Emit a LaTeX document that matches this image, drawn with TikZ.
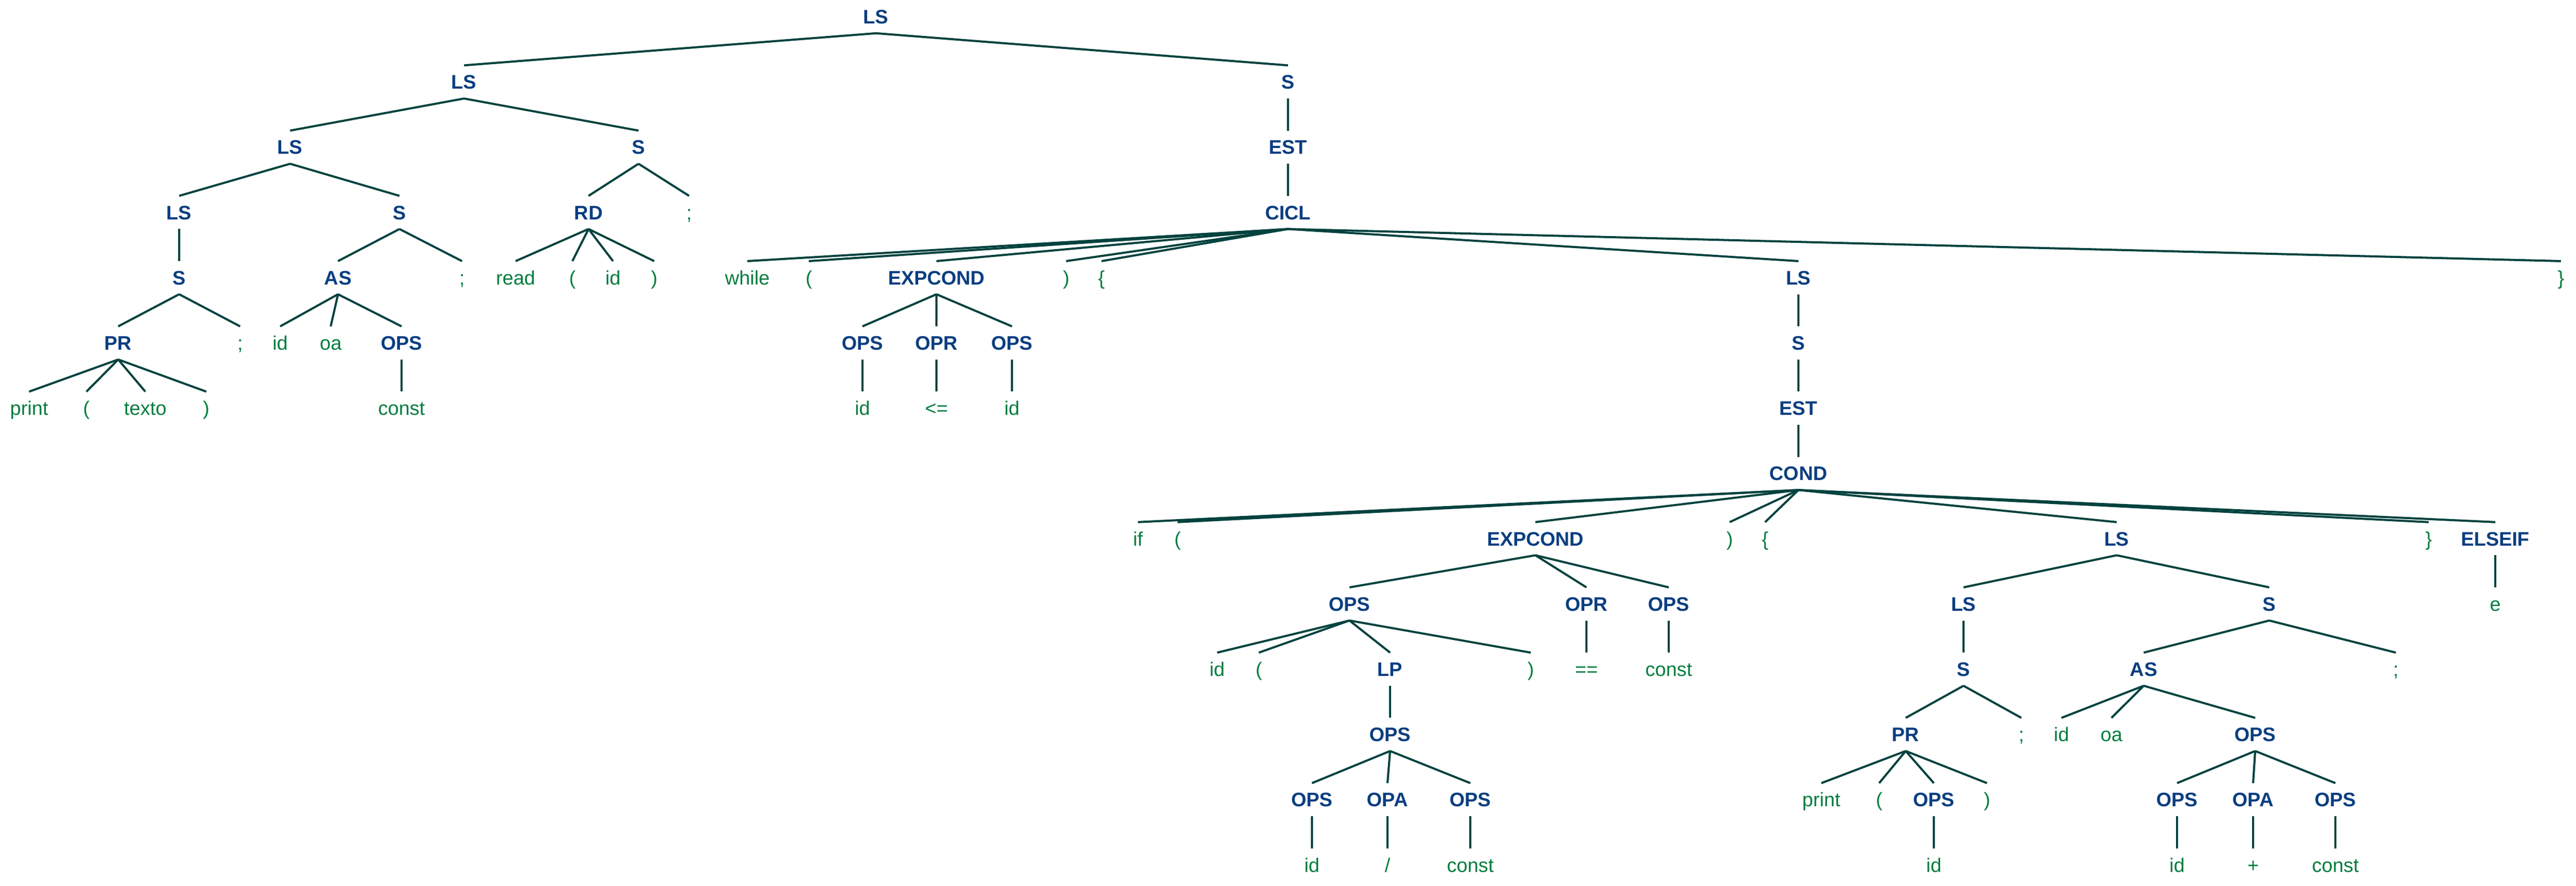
\documentclass[tikz,border=0pt]{standalone}
\usepackage{fontspec}
\setmainfont{Liberation Sans}
\usepackage{tikz}
\usetikzlibrary{positioning}
\definecolor{symcol}{RGB}{10,62,128}
\definecolor{tokcol}{RGB}{0,125,62}
\definecolor{linecol}{RGB}{0,66,62}
\tikzstyle{sym} = [text centered,text=symcol,font=\fontsize{10.7}{13}\selectfont\bfseries,text height=7.7pt,text depth=0pt,inner xsep=0pt,inner ysep=5pt]
\tikzstyle{tok} = [text centered,text=tokcol,font=\fontsize{10.7}{13}\selectfont,text height=7.7pt,text depth=0pt,inner xsep=0pt,inner ysep=5pt]
\tikzstyle{link} = [draw=linecol,line width=1.15pt]
\begin{document}
\begin{tikzpicture}[node distance=1.252cm]
				\useasboundingbox (0,0) rectangle (49.46,-17);
				\node (ls0) [sym] at (16.82,-0.32) {LS};
				\node (ls1) [sym, below of=ls0, xshift=-7.91cm] {LS};
				\node (s1) [sym, below of=ls0, xshift=7.91cm] {S};
				\node (ls2) [sym, below of=ls1, xshift=-3.34cm] {LS};
				\node (s2) [sym, below of=ls1, xshift=3.35cm] {S};
				\node (est1) [sym, below of=s1] {EST};
				\node (ls3) [sym, below of=ls2, xshift=-2.13cm] {LS};
				\node (s3) [sym, below of=ls2, xshift=2.10cm] {S};
				\node (rd) [sym, below of=s2, xshift=-0.96cm] {RD};
				\node (sc1) [tok, below of=s2, xshift=0.97cm] {;};
				\node (cicl) [sym, below of=est1] {CICL};
				\node (s4) [sym, below of=ls3] {S};
				\node (as1) [sym, below of=s3, xshift=-1.18cm] {AS};
				\node (sc2) [tok, below of=s3, xshift=1.20cm] {;};
				\node (read) [tok, below of=rd, xshift=-1.40cm] {read};
				\node (lp1) [tok, below of=rd, xshift=-0.31cm] {(};
				\node (id1) [tok, below of=rd, xshift=0.47cm] {id};
				\node (rp1) [tok, below of=rd, xshift=1.26cm] {)};
				\node (while) [tok, below of=cicl, xshift=-10.38cm] {while};
				\node (lp2) [tok, below of=cicl, xshift=-9.20cm] {(};
				\node (exp1) [sym, below of=cicl, xshift=-6.75cm] {EXPCOND};
				\node (rp2) [tok, below of=cicl, xshift=-4.26cm] {)};
				\node (lb1) [tok, below of=cicl, xshift=-3.58cm] {\{};
				\node (ls4) [sym, below of=cicl, xshift=9.80cm] {LS};
				\node (rb1) [tok, below of=cicl, xshift=24.44cm] {\}};
				\node (pr1) [sym, below of=s4, xshift=-1.17cm] {PR};
				\node (sc3) [tok, below of=s4, xshift=1.17cm] {;};
				\node (id2) [tok, below of=as1, xshift=-1.11cm] {id};
				\node (oa1) [tok, below of=as1, xshift=-0.14cm] {oa};
				\node (ops1) [sym, below of=as1, xshift=1.22cm] {OPS};
				\node (ops2) [sym, below of=exp1, xshift=-1.42cm] {OPS};
				\node (opr1) [sym, below of=exp1] {OPR};
				\node (ops3) [sym, below of=exp1, xshift=1.45cm] {OPS};
				\node (s5) [sym, below of=ls4] {S};
				\node (print1) [tok, below of=pr1, xshift=-1.71cm] {print};
				\node (lp3) [tok, below of=pr1, xshift=-0.61cm] {(};
				\node (texto) [tok, below of=pr1, xshift=0.52cm] {texto};
				\node (rp3) [tok, below of=pr1, xshift=1.69cm] {)};
				\node (const1) [tok, below of=ops1] {const};
				\node (id3) [tok, below of=ops2] {id};
				\node (le) [tok, below of=opr1] {<=};
				\node (id4) [tok, below of=ops3] {id};
				\node (est2) [sym, below of=s5] {EST};
				\node (cond) [sym, below of=est2] {COND};
				\node (if) [tok, below of=cond, xshift=-12.68cm] {if};
				\node (lp4) [tok, below of=cond, xshift=-11.92cm] {(};
				\node (exp2) [sym, below of=cond, xshift=-5.05cm] {EXPCOND};
				\node (rp4) [tok, below of=cond, xshift=-1.32cm] {)};
				\node (lb2) [tok, below of=cond, xshift=-0.64cm] {\{};
				\node (ls5) [sym, below of=cond, xshift=6.11cm] {LS};
				\node (rb2) [tok, below of=cond, xshift=12.10cm] {\}};
				\node (elseif) [sym, below of=cond, xshift=13.38cm] {ELSEIF};
				\node (ops4) [sym, below of=exp2, xshift=-3.57cm] {OPS};
				\node (opr2) [sym, below of=exp2, xshift=0.98cm] {OPR};
				\node (ops5) [sym, below of=exp2, xshift=2.56cm] {OPS};
				\node (ls6) [sym, below of=ls5, xshift=-2.94cm] {LS};
				\node (s6) [sym, below of=ls5, xshift=2.93cm] {S};
				\node (e) [tok, below of=elseif] {e};
				\node (id5) [tok, below of=ops4, xshift=-2.54cm] {id};
				\node (lp5) [tok, below of=ops4, xshift=-1.74cm] {(};
				\node (lp) [sym, below of=ops4, xshift=0.78cm] {LP};
				\node (rp5) [tok, below of=ops4, xshift=3.48cm] {)};
				\node (eq) [tok, below of=opr2] {==};
				\node (const2) [tok, below of=ops5] {const};
				\node (s7) [sym, below of=ls6] {S};
				\node (as2) [sym, below of=s6, xshift=-2.41cm] {AS};
				\node (sc4) [tok, below of=s6, xshift=2.43cm] {;};
				\node (ops6) [sym, below of=lp] {OPS};
				\node (pr2) [sym, below of=s7, xshift=-1.11cm] {PR};
				\node (sc5) [tok, below of=s7, xshift=1.11cm] {;};
				\node (id6) [tok, below of=as2, xshift=-1.58cm] {id};
				\node (oa2) [tok, below of=as2, xshift=-0.62cm] {oa};
				\node (ops7) [sym, below of=as2, xshift=2.14cm] {OPS};
				\node (ops8) [sym, below of=ops6, xshift=-1.50cm] {OPS};
				\node (opa1) [sym, below of=ops6, xshift=-0.05cm] {OPA};
				\node (ops9) [sym, below of=ops6, xshift=1.54cm] {OPS};
				\node (print2) [tok, below of=pr2, xshift=-1.62cm] {print};
				\node (lp6) [tok, below of=pr2, xshift=-0.51cm] {(};
				\node (ops10) [sym, below of=pr2, xshift=0.54cm] {OPS};
				\node (rp6) [tok, below of=pr2, xshift=1.56cm] {)};
				\node (ops11) [sym, below of=ops7, xshift=-1.50cm] {OPS};
				\node (opa2) [sym, below of=ops7, xshift=-0.04cm] {OPA};
				\node (ops12) [sym, below of=ops7, xshift=1.54cm] {OPS};
				\node (id7) [tok, below of=ops8] {id};
				\node (slash) [tok, below of=opa1] {/};
				\node (const3) [tok, below of=ops9] {const};
				\node (id8) [tok, below of=ops10] {id};
				\node (id9) [tok, below of=ops11] {id};
				\node (plus) [tok, below of=opa2] {+};
				\node (const4) [tok, below of=ops12] {const};
				\draw [link] (ls0.south) -- (ls1.north);
				\draw [link] (ls0.south) -- (s1.north);
				\draw [link] (ls1.south) -- (ls2.north);
				\draw [link] (ls1.south) -- (s2.north);
				\draw [link] (s1.south) -- (est1.north);
				\draw [link] (ls2.south) -- (ls3.north);
				\draw [link] (ls2.south) -- (s3.north);
				\draw [link] (s2.south) -- (rd.north);
				\draw [link] (s2.south) -- (sc1.north);
				\draw [link] (est1.south) -- (cicl.north);
				\draw [link] (ls3.south) -- (s4.north);
				\draw [link] (s3.south) -- (as1.north);
				\draw [link] (s3.south) -- (sc2.north);
				\draw [link] (rd.south) -- (read.north);
				\draw [link] (rd.south) -- (lp1.north);
				\draw [link] (rd.south) -- (id1.north);
				\draw [link] (rd.south) -- (rp1.north);
				\draw [link] (cicl.south) -- (while.north);
				\draw [link] (cicl.south) -- (lp2.north);
				\draw [link] (cicl.south) -- (exp1.north);
				\draw [link] (cicl.south) -- (rp2.north);
				\draw [link] (cicl.south) -- (lb1.north);
				\draw [link] (cicl.south) -- (ls4.north);
				\draw [link] (cicl.south) -- (rb1.north);
				\draw [link] (s4.south) -- (pr1.north);
				\draw [link] (s4.south) -- (sc3.north);
				\draw [link] (as1.south) -- (id2.north);
				\draw [link] (as1.south) -- (oa1.north);
				\draw [link] (as1.south) -- (ops1.north);
				\draw [link] (exp1.south) -- (ops2.north);
				\draw [link] (exp1.south) -- (opr1.north);
				\draw [link] (exp1.south) -- (ops3.north);
				\draw [link] (ls4.south) -- (s5.north);
				\draw [link] (pr1.south) -- (print1.north);
				\draw [link] (pr1.south) -- (lp3.north);
				\draw [link] (pr1.south) -- (texto.north);
				\draw [link] (pr1.south) -- (rp3.north);
				\draw [link] (ops1.south) -- (const1.north);
				\draw [link] (ops2.south) -- (id3.north);
				\draw [link] (opr1.south) -- (le.north);
				\draw [link] (ops3.south) -- (id4.north);
				\draw [link] (s5.south) -- (est2.north);
				\draw [link] (est2.south) -- (cond.north);
				\draw [link] (cond.south) -- (if.north);
				\draw [link] (cond.south) -- (lp4.north);
				\draw [link] (cond.south) -- (exp2.north);
				\draw [link] (cond.south) -- (rp4.north);
				\draw [link] (cond.south) -- (lb2.north);
				\draw [link] (cond.south) -- (ls5.north);
				\draw [link] (cond.south) -- (rb2.north);
				\draw [link] (cond.south) -- (elseif.north);
				\draw [link] (exp2.south) -- (ops4.north);
				\draw [link] (exp2.south) -- (opr2.north);
				\draw [link] (exp2.south) -- (ops5.north);
				\draw [link] (ls5.south) -- (ls6.north);
				\draw [link] (ls5.south) -- (s6.north);
				\draw [link] (elseif.south) -- (e.north);
				\draw [link] (ops4.south) -- (id5.north);
				\draw [link] (ops4.south) -- (lp5.north);
				\draw [link] (ops4.south) -- (lp.north);
				\draw [link] (ops4.south) -- (rp5.north);
				\draw [link] (opr2.south) -- (eq.north);
				\draw [link] (ops5.south) -- (const2.north);
				\draw [link] (ls6.south) -- (s7.north);
				\draw [link] (s6.south) -- (as2.north);
				\draw [link] (s6.south) -- (sc4.north);
				\draw [link] (lp.south) -- (ops6.north);
				\draw [link] (s7.south) -- (pr2.north);
				\draw [link] (s7.south) -- (sc5.north);
				\draw [link] (as2.south) -- (id6.north);
				\draw [link] (as2.south) -- (oa2.north);
				\draw [link] (as2.south) -- (ops7.north);
				\draw [link] (ops6.south) -- (ops8.north);
				\draw [link] (ops6.south) -- (opa1.north);
				\draw [link] (ops6.south) -- (ops9.north);
				\draw [link] (pr2.south) -- (print2.north);
				\draw [link] (pr2.south) -- (lp6.north);
				\draw [link] (pr2.south) -- (ops10.north);
				\draw [link] (pr2.south) -- (rp6.north);
				\draw [link] (ops7.south) -- (ops11.north);
				\draw [link] (ops7.south) -- (opa2.north);
				\draw [link] (ops7.south) -- (ops12.north);
				\draw [link] (ops8.south) -- (id7.north);
				\draw [link] (opa1.south) -- (slash.north);
				\draw [link] (ops9.south) -- (const3.north);
				\draw [link] (ops10.south) -- (id8.north);
				\draw [link] (ops11.south) -- (id9.north);
				\draw [link] (opa2.south) -- (plus.north);
				\draw [link] (ops12.south) -- (const4.north);
			\end{tikzpicture}
\end{document}
